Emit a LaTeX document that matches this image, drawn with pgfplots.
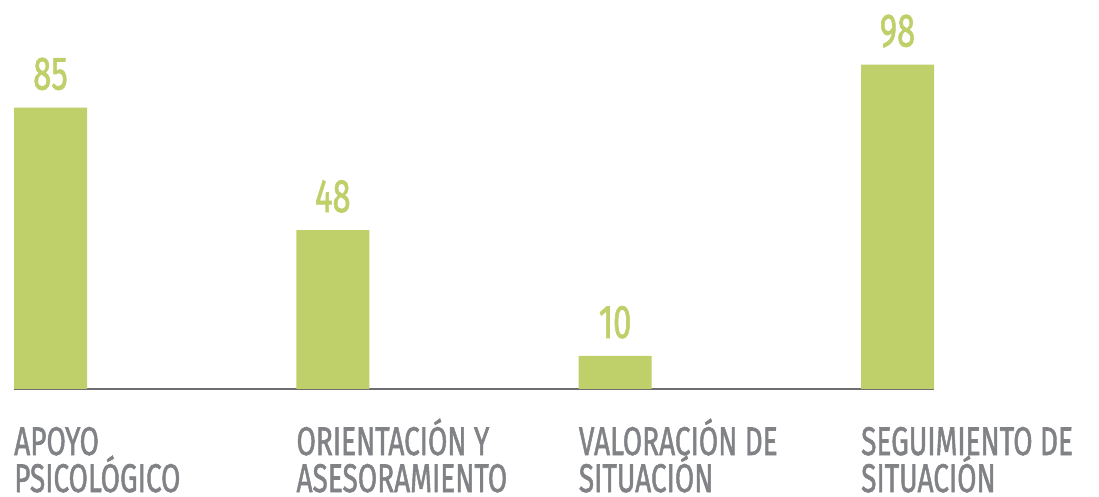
\documentclass[border=0pt]{standalone}
\usepackage{fontspec}
\setmainfont{Fira Sans}
\newfontfamily\medfont{Fira Sans}[FakeBold=1.6]
\usepackage{pgfplots}
\pgfplotsset{compat=1.18}
\definecolor{barg}{HTML}{BFCF6A}
\definecolor{labg}{HTML}{808285}
\definecolor{axg}{HTML}{6D6E71}
\newcommand\lab[2]{\scalebox{0.70}[1]{\fontsize{40}{37}\medfont\begin{tabular}[t]{@{}l@{}}\smash{#1}\\\smash{#2}\end{tabular}}}
\begin{document}
\begin{tikzpicture}
\path[use as bounding box] (-14pt,-108pt) rectangle (1085pt,389pt);
\begin{axis}[at={(0pt,0pt)}, anchor=south west, scale only axis,
  width=920pt, height=389pt,
  xmin=-0.1293, xmax=3.1293, ymin=0, ymax=117.5,
  enlargelimits=false, clip=false,
  ybar, bar width=73pt, bar shift=0pt,
  axis x line=bottom, axis y line=none,
  axis line style={-, draw=axg, line width=1.3pt},
  xtick={0,1,2,3},
  xticklabels={{\lab{APOYO}{PSICOLÓGICO}},{\lab{ORIENTACIÓN Y}{ASESORAMIENTO}},{\lab{VALORACIÓN DE}{SITUACIÓN}},{\lab{SEGUIMIENTO DE}{SITUACIÓN}}},
  major tick length=0pt,
  xticklabel style={anchor=base west, inner sep=0pt, xshift=-36.5pt, yshift=-66pt, text=labg},
  nodes near coords={\scalebox{0.70}[1]{\pgfmathprintnumber[assume math mode=true,int detect]{\pgfplotspointmeta}}},
  nodes near coords style={font=\fontsize{47}{47}\medfont, text=barg, anchor=base, yshift=18pt, inner sep=0pt},
]
\addplot[fill=barg, draw=none] coordinates {(0,85) (1,48) (2,10) (3,98)};
\end{axis}
\end{tikzpicture}
\end{document}
